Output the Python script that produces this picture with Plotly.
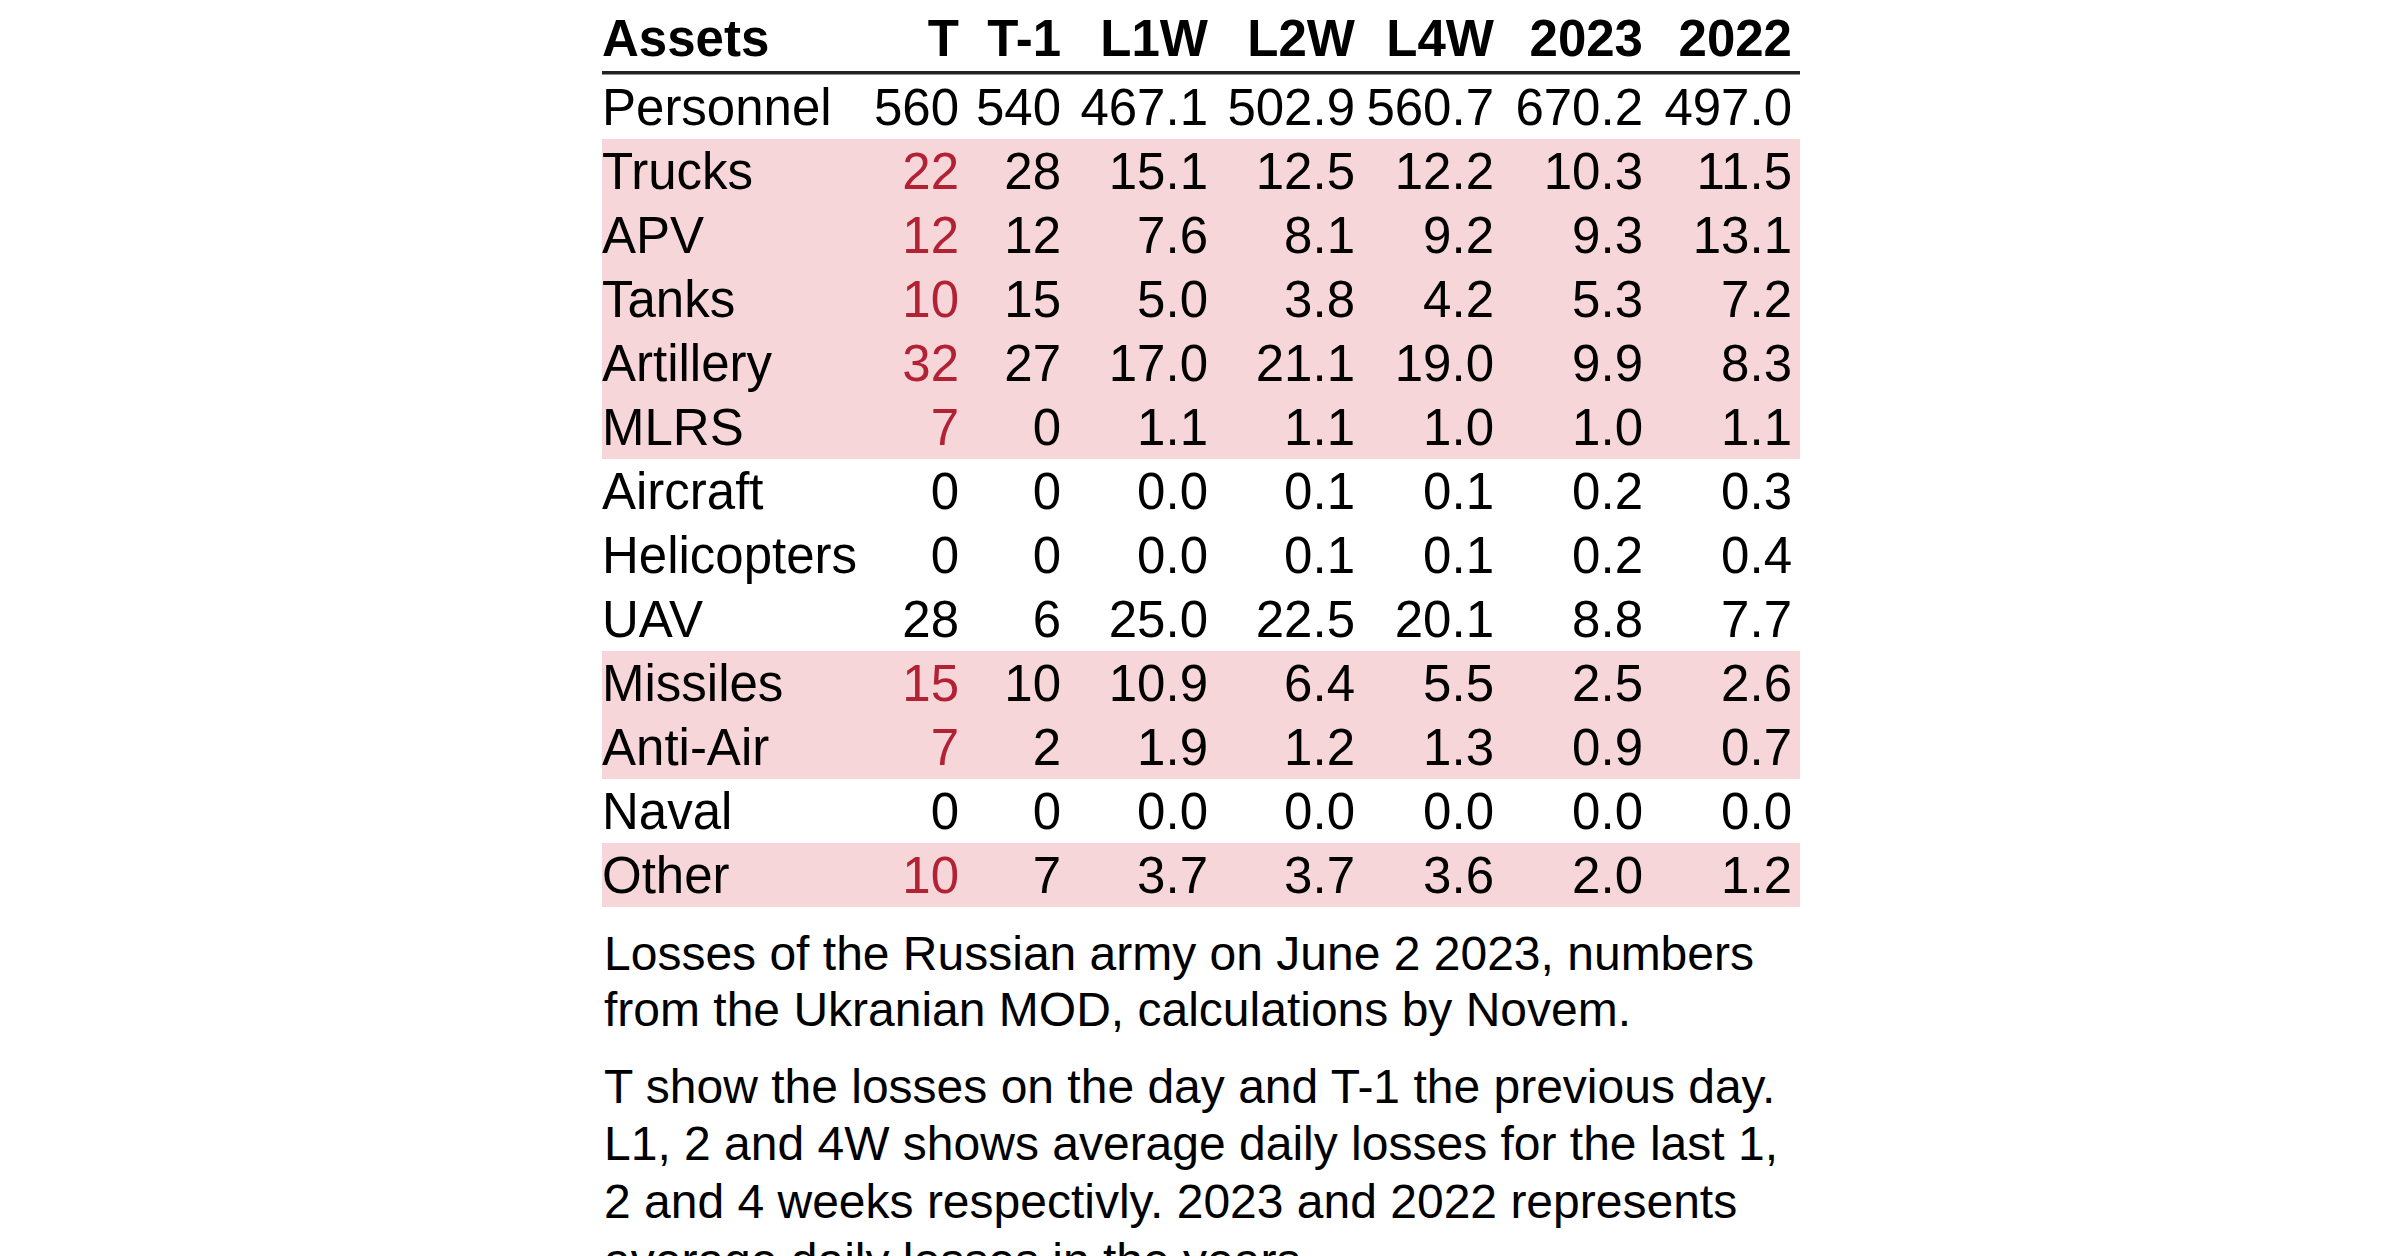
import plotly.graph_objects as go

# table data
assets = ['Personnel', 'Trucks', 'APV', 'Tanks', 'Artillery', 'MLRS', 'Aircraft',
          'Helicopters', 'UAV', 'Missiles', 'Anti-Air', 'Naval', 'Other']
col_names = ['T', 'T-1', 'L1W', 'L2W', 'L4W', '2023', '2022']
t_day = [560, 22, 12, 10, 32, 7, 0, 0, 28, 15, 7, 0, 10]
t_prev = [540, 28, 12, 15, 27, 0, 0, 0, 6, 10, 2, 0, 7]
l1w = [467.1, 15.1, 7.6, 5.0, 17.0, 1.1, 0.0, 0.0, 25.0, 10.9, 1.9, 0.0, 3.7]
l2w = [502.9, 12.5, 8.1, 3.8, 21.1, 1.1, 0.1, 0.1, 22.5, 6.4, 1.2, 0.0, 3.7]
l4w = [560.7, 12.2, 9.2, 4.2, 19.0, 1.0, 0.1, 0.1, 20.1, 5.5, 1.3, 0.0, 3.6]
y2023 = [670.2, 10.3, 9.3, 5.3, 9.9, 1.0, 0.2, 0.2, 8.8, 2.5, 0.9, 0.0, 2.0]
y2022 = [497.0, 11.5, 13.1, 7.2, 8.3, 1.1, 0.3, 0.4, 7.7, 2.6, 0.7, 0.0, 1.2]
highlight = [False, True, True, True, True, True, False, False, False, True, True, False, True]

notes = ['Losses of the Russian army on June 2 2023, numbers',
         'from the Ukranian MOD, calculations by Novem.',
         'T show the losses on the day and T-1 the previous day.',
         'L1, 2 and 4W shows average daily losses for the last 1,',
         '2 and 4 weeks respectivly. 2023 and 2022 represents',
         'average daily losses in the years.']

# layout in page pixels (the html body adds an 8px margin)
W, H = 2400, 1256
PAD = 8
FONT = 'Liberation Sans, Arial, sans-serif'
RED = '#B22234'
PINK = '#F7D6DA'
left, right = 602, 1800
col_x = [959, 1061, 1208, 1355, 1494, 1643, 1792]
head_y = 38
line_y = 72.7
row0, row_h = 107, 64
text_dy = 5
note_y = [953, 1009, 1086, 1143, 1201, 1260]

columns = [t_day, t_prev, l1w, l2w, l4w, y2023, y2022]
row_y = [row0 + row_h * i for i in range(len(assets))]
text_y = [y + text_dy for y in row_y]

fig = go.Figure()

# stub column
fig.add_trace(go.Scatter(x=[left] * len(assets), y=text_y, text=assets,
                         mode='text', textposition='middle right',
                         textfont=dict(family=FONT, size=51, color='black'),
                         hoverinfo='skip', showlegend=False, cliponaxis=False))

for i, (name, vals) in enumerate(zip(col_names, columns)):
    if i < 2:
        labels = [f'{v:d}' for v in vals]
    else:
        labels = [f'{v:.1f}' for v in vals]
    if i == 0:
        colors = [RED if h else 'black' for h in highlight]
    else:
        colors = ['black'] * len(vals)
    fig.add_trace(go.Scatter(x=[col_x[i]] * len(vals), y=text_y, text=labels,
                             mode='text', textposition='middle left',
                             textfont=dict(family=FONT, size=51, color=colors),
                             hoverinfo='skip', showlegend=False, cliponaxis=False))

# header
fig.add_trace(go.Scatter(x=[left] + col_x, y=[head_y + text_dy] * (len(col_names) + 1),
                         text=['Assets'] + col_names, mode='text',
                         textposition=['middle right'] + ['middle left'] * len(col_names),
                         textfont=dict(family=FONT, size=51, color='black', weight='bold'),
                         hoverinfo='skip', showlegend=False, cliponaxis=False))

# highlighted row bands
for y, h in zip(row_y, highlight):
    if h:
        fig.add_shape(type='rect', xref='x', yref='y', x0=left, x1=right,
                      y0=y - row_h / 2, y1=y + row_h / 2,
                      fillcolor=PINK, line_width=0, layer='below')

fig.add_shape(type='line', xref='x', yref='y', x0=left, x1=right, y0=line_y, y1=line_y,
              line=dict(color='#222222', width=3.5))

# footnotes (paper coords so the clipped last line still shows)
for txt, y in zip(notes, note_y):
    fig.add_annotation(x=left, y=1 - (y - PAD) / H, xref='x', yref='paper', text=txt,
                       showarrow=False, xanchor='left', yanchor='middle',
                       font=dict(family=FONT, size=48, color='black'))

fig.update_xaxes(range=[PAD, W + PAD], visible=False, fixedrange=True)
fig.update_yaxes(range=[H + PAD, PAD], visible=False, fixedrange=True)
fig.update_layout(width=W, height=H, margin=dict(l=0, r=0, t=0, b=0),
                  plot_bgcolor='white', paper_bgcolor='white')

fig.write_html('out.html')
